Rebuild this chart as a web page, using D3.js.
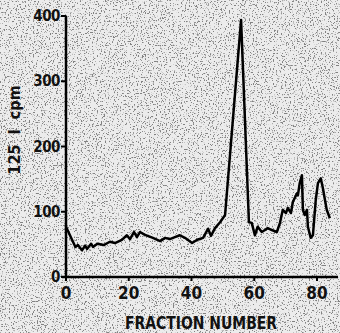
<!DOCTYPE html>
<html>
<head>
<meta charset="utf-8">
<script src="https://cdn.jsdelivr.net/npm/d3@7"></script>
<style>
  html, body { margin: 0; padding: 0; background: #ffffff; }
  .lbl { font-family: "Liberation Sans Narrow", "DejaVu Sans Condensed", "Roboto", sans-serif; font-weight: bold; fill: #111; }
</style>
</head>
<body>
<div id="chart"></div>
<script>
// fraction number vs 125I cpm
const fractions = [0, 3, 3.8, 5.1, 6.1, 6.7, 8, 8.6, 10, 12, 14, 15.6, 17.8, 19.4, 20.4, 21.7, 22.6, 23.6, 25,
  27.7, 30, 31.6, 33.1, 34.7, 36.3, 37.9, 40.2, 41.8, 43.7, 45.3, 46.2, 47.5, 49.1, 50.7, 55.8, 58.3, 59.2,
  60.2, 61.1, 62.4, 63.4, 64.3, 65.6, 67.2, 68.2, 69.1, 70.1, 70.7, 71.7, 72.3, 73.6, 73.9, 74.5, 75.2, 75.5,
  76.1, 76.8, 77.1, 78, 78.7, 79.6, 80.3, 81.2, 81.8, 83.1, 84.1];
const cpm = [77, 46, 49, 41, 48, 43, 51, 46, 51, 49, 54, 52, 57, 64, 58, 69, 61, 69, 65,
  60, 55, 60, 58, 61, 64, 60, 52, 57, 60, 74, 63, 75, 84, 95, 394, 84, 83,
  64, 77, 69, 72, 75, 72, 69, 83, 103, 98, 106, 98, 115, 128, 125, 144, 156, 103,
  95, 103, 77, 60, 64, 118, 144, 151, 138, 103, 90];
const xTicks = [0, 20, 40, 60, 80];
const yTicks = [0, 100, 200, 300, 400];

const width = 340, height = 333;
const margin = { top: 16, right: 2, bottom: 56, left: 66 };

const svg = d3.select('#chart').append('svg')
  .attr('width', width)
  .attr('height', height);

// speckled paper of the scan
const defs = svg.append('defs');
const f = defs.append('filter').attr('id', 'speck').attr('x', 0).attr('y', 0).attr('width', '100%').attr('height', '100%');
f.append('feTurbulence').attr('type', 'fractalNoise').attr('baseFrequency', 0.75).attr('numOctaves', 2).attr('seed', 3);
f.append('feColorMatrix').attr('type', 'matrix')
  .attr('values', '0 0 0 0 0  0 0 0 0 0  0 0 0 0 0  9 0 0 0 -5.2');
svg.append('rect').attr('width', width).attr('height', height).attr('fill', '#ececec');
svg.append('rect').attr('width', width).attr('height', height).attr('filter', 'url(#speck)').attr('opacity', 0.45);

const x = d3.scaleLinear().domain([0, 80]).range([margin.left, 317]);
const y = d3.scaleLinear().domain([0, 400]).range([277, margin.top]);

/* axes */
const gx = svg.append('g').attr('transform', 'translate(0,' + y(0) + ')');
gx.append('line').attr('x1', x(0) - 4).attr('x2', 338).attr('stroke', '#000').attr('stroke-width', 2.5);
gx.selectAll('.tk').data(xTicks).enter().append('line')
  .attr('x1', d => x(d)).attr('x2', d => x(d)).attr('y1', 0).attr('y2', 4)
  .attr('stroke', '#000').attr('stroke-width', 2);
gx.selectAll('.tl').data(xTicks).enter().append('text')
  .attr('class', 'lbl')
  .attr('x', d => x(d)).attr('y', 22)
  .attr('text-anchor', 'middle')
  .style('font-size', '17px')
  .text(d => d);

const gy = svg.append('g').attr('transform', 'translate(' + x(0) + ',0)');
gy.append('line').attr('y1', y(400)).attr('y2', y(0)).attr('stroke', '#000').attr('stroke-width', 2.5);
gy.selectAll('.tk').data(yTicks).enter().append('line')
  .attr('x1', -5).attr('x2', 0).attr('y1', d => y(d)).attr('y2', d => y(d))
  .attr('stroke', '#000').attr('stroke-width', 2);
gy.selectAll('.tl').data(yTicks).enter().append('text')
  .attr('class', 'lbl')
  .attr('x', -6).attr('y', d => y(d) + 5)
  .attr('text-anchor', 'end')
  .style('font-size', '15px')
  .style('letter-spacing', '-0.5px')
  .text(d => d);

/* axis titles */
svg.append('text').attr('class', 'lbl')
  .attr('x', 201).attr('y', 329)
  .attr('text-anchor', 'middle')
  .attr('textLength', 152)
  .attr('lengthAdjust', 'spacingAndGlyphs')
  .style('font-size', '17px')
  .text('FRACTION NUMBER');

svg.append('text').attr('class', 'lbl')
  .attr('transform', 'translate(20,130) rotate(-90)')
  .attr('text-anchor', 'middle')
  .style('font-size', '16px')
  .attr('xml:space', 'preserve')
  .text('125  I  cpm');

/* the elution profile */
const pts = fractions.map((d, i) => ({ f: d, v: cpm[i] }));
svg.append('path')
  .datum(pts)
  .attr('fill', 'none')
  .attr('stroke', '#000')
  .attr('stroke-width', 2.5)
  .attr('stroke-linejoin', 'round')
  .attr('d', d3.line().x(d => x(d.f)).y(d => y(d.v)));
</script>
</body>
</html>
